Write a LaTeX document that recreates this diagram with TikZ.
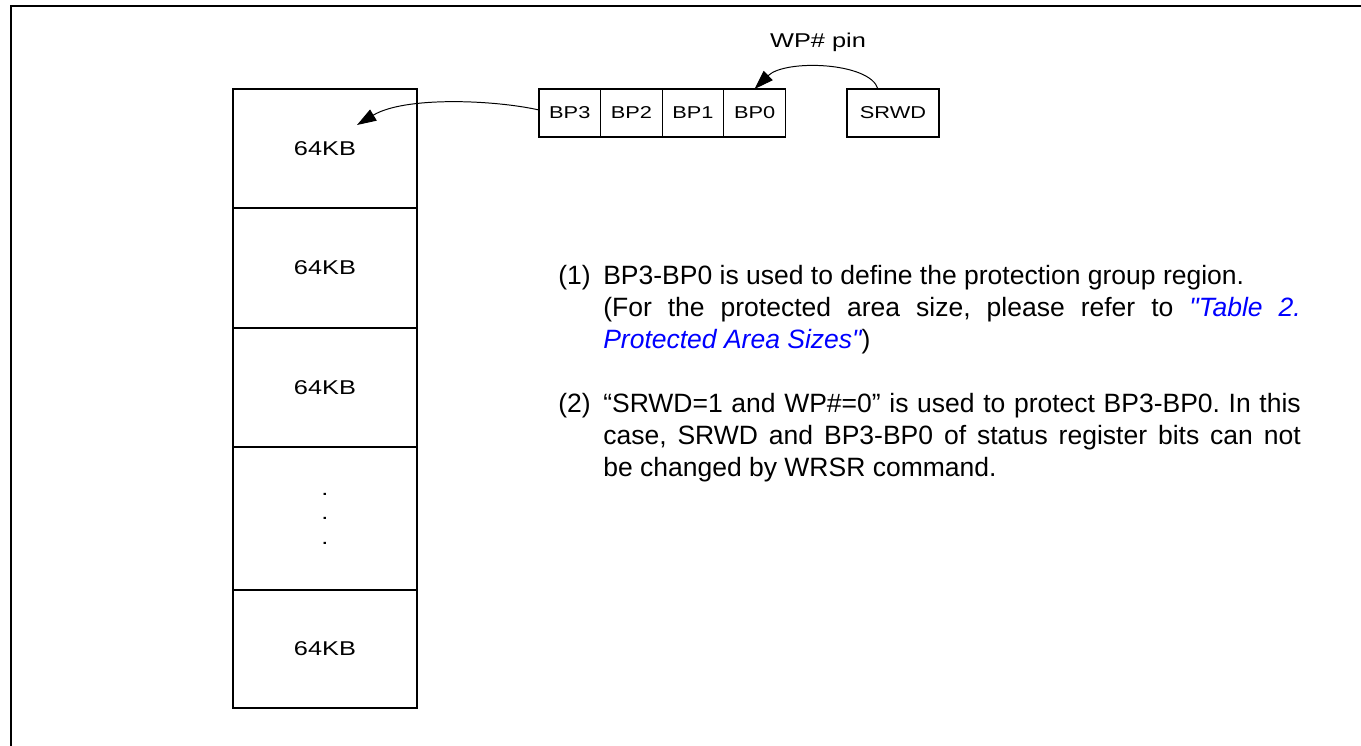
\documentclass[tikz,border=0pt]{standalone}
\usepackage{fontspec}
\setmainfont{Liberation Sans}
\newfontfamily\diagfont[FakeStretch=1.27]{Liberation Sans}
\font\linkfnt="Liberation Sans/I" at 18.85pt
\usetikzlibrary{arrows.meta,positioning}
\usepackage{xcolor}
\definecolor{linkblue}{HTML}{0000FF}
\newcommand{\tablelink}[1]{{\color{linkblue}\linkfnt #1}}

\begin{document}
\begin{tikzpicture}[
  every node/.style={font=\diagfont\fontsize{14.2}{17.4}\selectfont},
  cell/.style  ={draw, line width=0.9pt, minimum width=4.6cm,
                 inner sep=0pt, outer sep=0pt},
  bitbox/.style={draw, line width=0.9pt, minimum width=1.54cm,
                 minimum height=1.2cm, inner sep=0pt, outer sep=0pt,
                 font=\diagfont\fontsize{12.2}{14}\selectfont},
  note/.style  ={anchor=north west, inner sep=0pt, text width=18.5625cm,
                 font=\fontsize{18.85}{22.76}\selectfont},
  arr/.style={-{Triangle[length=0.48cm,width=0.32cm]}, line width=0.7pt}
]
\useasboundingbox (0,0) rectangle (34.025,-18.65);

%% ─── frame ────────────────────────────────────────────────────────────────
\draw[line width=1.4pt] (34.025,-0.15) -- (0.275,-0.15) -- (0.275,-18.65);

%% ─── memory blocks ────────────────────────────────────────────────────────
\node[cell, minimum height=2.975cm, anchor=north west] (mem1) at (5.825,-2.225) {64KB};
\node[cell, minimum height=3.0cm,   below=0pt of mem1] (mem2) {64KB};
\node[cell, minimum height=2.975cm, below=0pt of mem2] (mem3) {64KB};
\node[cell, minimum height=3.575cm, below=0pt of mem3, align=center] (mem4) {.\\.\\.};
\node[cell, minimum height=2.95cm,  below=0pt of mem4] (mem5) {64KB};
\coordinate (memtip) at (8.925,-3.125);

%% ─── status register bits ─────────────────────────────────────────────────
\node[bitbox, anchor=north west] (bp3) at (13.475,-2.225) {BP3};
\node[bitbox, right=0pt of bp3] (bp2) {BP2};
\node[bitbox, right=0pt of bp2] (bp1) {BP1};
\node[bitbox, right=0pt of bp1] (bp0) {BP0};
\node[bitbox, minimum width=2.3cm, right=1.54cm of bp0] (srwd) {SRWD};
\node[anchor=base] (wppin) at (20.45,-1.2) {WP\# pin};

\draw[arr] ([xshift=-0.375cm]srwd.north) .. controls (21.75,-1.55) and (19.625,-1.475) .. (bp0.north);
\draw[arr] ([yshift=0.075cm]bp3.west) .. controls (12.375,-2.5) and (10.125,-2.4) .. (memtip);

%% ─── notes ────────────────────────────────────────────────────────────────
\node[note] (notes) at (13.95,-6.6175) {%
  \frenchspacing\hyphenpenalty=10000\exhyphenpenalty=10000\tolerance=9999
  \leftskip=0pt\rightskip=0pt\parfillskip=0pt plus 1fil\parskip=0pt
  \spaceskip=0.278em plus 0.5em minus 0em
  \hangindent=1.125cm\hangafter=1\noindent\makebox[1.125cm][l]{(1)}BP3-BP0 is used to define the protection group region.\newline
  (For the protected area size, please refer to \tablelink{"Table 2. Protected Area Sizes"})\par
  \vskip 22.76pt
  \hangindent=1.125cm\hangafter=1\noindent\makebox[1.125cm][l]{(2)}“SRWD=1 and WP\#=0” is used to protect BP3-BP0. In this case, SRWD and BP3-BP0 of status register bits can not be changed by WRSR command.\par};

\end{tikzpicture}
\end{document}
